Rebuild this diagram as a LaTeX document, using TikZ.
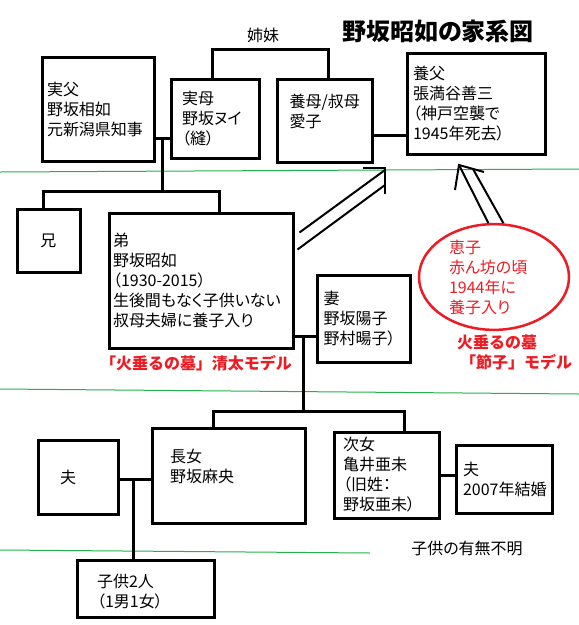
\documentclass[tikz,border=0pt]{standalone}
\usepackage{fontspec}
\setmainfont{Noto Sans CJK JP}[RawFeature=+palt]
\newfontfamily\fulljp{Noto Sans CJK JP}
\usetikzlibrary{shapes.geometric}
\definecolor{paintgreen}{HTML}{22B14C}
\definecolor{paintred}{HTML}{ED1C24}
\begin{document}
\begin{tikzpicture}[x=1pt, y=-1pt,
    font=\fontsize{16}{20}\selectfont,
    box/.style={draw, line width=3pt, inner sep=0pt, align=left},
    link/.style={line width=3pt},
    arr/.style={line width=2pt},
    sep/.style={draw=paintgreen, line width=1pt},
    note/.style={text=paintred, font=\fulljp\fontsize{16}{20}\selectfont\bfseries}]
        \useasboundingbox (0,0) rectangle (579,625);

        \node[font=\fontsize{24}{24}\selectfont\bfseries] (title) at (438,31) {野坂昭如の家系図};

        \node[box, minimum width=112pt, minimum height=104pt, text width=102pt] (jippu) at (98,109) {実父\\野坂相如\\元新潟県知事};
        \node[box, minimum width=88pt, minimum height=79pt, text width=66pt] (jitsubo) at (215,118.5) {実母\\野坂ヌイ\\（縫）};
        \node[box, minimum width=95pt, minimum height=83pt, text width=70pt] (youbo) at (324.5,120.5) {養母/叔母\\愛子\\\mbox{}};
        \node[box, minimum width=138pt, minimum height=101pt, text width=126pt] (youfu) at (476,103.5) {養父\\張満谷善三\\（神戸空襲で\\1945年死去）};
        \node[box, minimum width=63pt, minimum height=63pt] (ani) at (48.5,240.5) {兄};
        \node[box, minimum width=184pt, minimum height=135pt, text width=176pt] (otouto) at (201,280.5) {弟\\野坂昭如\\（1930-2015）\\生後間もなく子供いない\\叔母夫婦に養子入り};
        \node[box, minimum width=93pt, minimum height=87pt, text width=80pt] (tsuma) at (363.5,318.5) {妻\\野坂陽子\\野村暘子）};
        \node[ellipse, draw=paintred, line width=2.5pt, minimum width=150pt, minimum height=105pt, inner sep=0pt, text width=90pt, align=left, text=paintred] (keiko) at (494,277) {恵子\\赤ん坊の頃\\1944年に\\養子入り};
        \node[box, minimum width=80pt, minimum height=74pt, text width=36pt] (otto1) at (78,477) {夫};
        \node[box, minimum width=153pt, minimum height=95pt, text width=117pt] (choujo) at (228.5,475.5) {長女\\野坂麻央\\\mbox{}};
        \node[box, minimum width=105pt, minimum height=86pt, text width=87pt] (jijo) at (386.5,475) {次女\\亀井亜未\\（旧姓：\\野坂亜未）};
        \node[box, minimum width=96pt, minimum height=68pt, text width=82pt] (otto2) at (504,479) {夫\\2007年結婚};
        \node[box, minimum width=137pt, minimum height=57pt, text width=97pt] (kodomo) at (145.5,588.5) {\mbox{}\\子供2人\\（1男1女）};

        \node[note] (seita) at (196,363) {「火垂るの墓」清太モデル};
        \node[note] (hotaru) at (497,342) {火垂るの墓};
        \node[note] (setsuko) at (516,362) {「節子」モデル};
        \node (fumei) at (467,548) {子供の有無不明};

        \path[sep] (0,172) -- (579,169);
        \path[sep] (0,389) -- (579,394);
        \path[sep] (0,550) -- (370,553);

        \coordinate (m1) at (162,138);
        \coordinate (k1) at (162,191);
        \coordinate (m2) at (390,135);
        \coordinate (m3) at (303,336);
        \coordinate (k2) at (303,411);
        \coordinate (m4) at (133,479);

        \draw[link] (jippu.east |- m1) -- (jitsubo.west |- m1);
        \draw[link] ([xshift=-3pt]jitsubo.north) -- ++(0,-28) -| node[pos=.22, above=2pt] (shimai) {姉妹} ([xshift=3.5pt]youbo.north);
        \draw[link] (youbo.east |- m2) -- (youfu.west |- m2);
        \draw[link] (m1) -- (k1);
        \draw[link] ([xshift=-5.5pt]ani.north) |- (k1) -| ([xshift=18pt]otouto.north);
        \draw[link] (otouto.east |- m3) -- (tsuma.west |- m3);
        \draw[link] (m3) -- (k2);
        \draw[link] ([xshift=-15.5pt]choujo.north) |- (k2) -| ([xshift=17.5pt]jijo.north);
        \draw[link] (otto1.east |- m4) -- (choujo.west |- m4);
        \draw[link] (m4) -- (m4 |- kodomo.north);
        \draw[link] (jijo.east) -- (otto2.west |- jijo.east);

        \coordinate (tip1) at (385,168);
        \coordinate (tip2) at (459,165);
        \draw[arr] ([shift={(5pt,48pt)}]otouto.east) -- ([yshift=-2pt]tip1);
        \draw[arr] ([shift={(3pt,31pt)}]otouto.east) -- ([yshift=-17pt]tip1);
        \draw[arr] ([xshift=-22pt]tip1) -- (tip1) -- ([yshift=-26pt]tip1);
        \draw[arr] (keiko.96) -- (tip2);
        \draw[arr] (keiko.80) -- ([shift={(14pt,-4pt)}]tip2);
        \draw[arr] ([shift={(-4pt,-25pt)}]tip2) -- (tip2) -- ([shift={(25pt,-7pt)}]tip2);
\end{tikzpicture}
\end{document}
